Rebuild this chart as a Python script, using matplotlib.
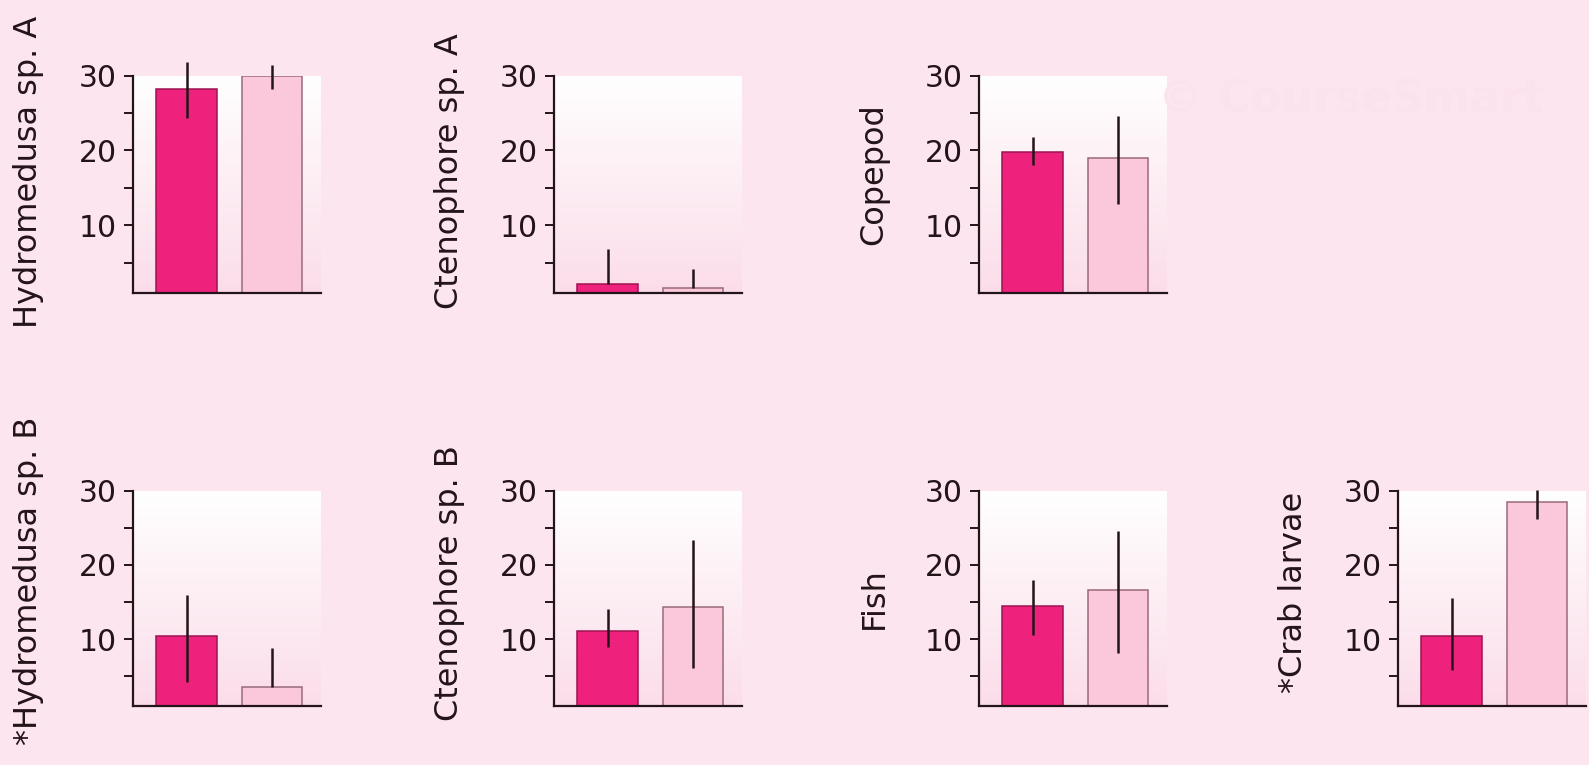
import matplotlib.pyplot as plt
import numpy as np

# values (two groups per taxon)
taxa = ["Hydromedusa sp. A", "Ctenophore sp. A", "Copepod",
        "*Hydromedusa sp. B", "Ctenophore sp. B", "Fish", "*Crab larvae"]
dark_vals = [28.2, 2.1, 19.8, 10.4, 11.1, 14.4, 10.4]
dark_lo = [3.9, 0.0, 1.8, 6.2, 2.2, 3.8, 4.6]
dark_hi = [3.6, 4.7, 2.0, 5.5, 2.9, 3.5, 5.1]
light_vals = [30.0, 1.6, 19.0, 3.6, 14.3, 16.6, 28.4]
light_lo = [1.8, 0.0, 6.2, 0.0, 8.2, 8.5, 2.2]
light_hi = [1.4, 2.5, 5.6, 5.2, 9.1, 8.0, 1.7]
yticks = [10, 20, 30]

# layout (pixels in a 1589x765 figure)
W, H = 1589, 765
col_left = [133, 554, 979, 1398]
slots = [(0, 0), (0, 1), (0, 2), (1, 0), (1, 1), (1, 2), (1, 3)]
row_box = [(75.5, 292.5), (490.5, 706.0)]
label_y = [0.555, 0.56, 0.546, 0.58, 0.571, 0.5, 0.529]

bg = '#fce5ef'
dark_col, dark_edge = '#ee227d', '#9c1450'
light_col, light_edge = '#fac8da', '#9a6a7a'
ink = '#231419'

plt.rcParams['font.family'] = ['DejaVu Sans']

fig = plt.figure(figsize=(W / 100, H / 100), dpi=100, facecolor=bg)

# pink-to-white gradient used as axes background
grad = np.linspace(0, 1, 256).reshape(-1, 1)
top_rgb = np.array([1.0, 1.0, 1.0])
bot_rgb = np.array([251, 221, 233]) / 255
grad_img = (bot_rgb + (top_rgb - bot_rgb) * grad)[:, None, :].repeat(2, axis=1)

for i, name in enumerate(taxa):
    r, c = slots[i]
    top, bot = row_box[r]
    ax = fig.add_axes([col_left[c] / W, 1 - bot / H, 188 / W, (bot - top) / H])
    ax.set_xlim(-0.626, 1.573)
    ax.set_ylim(1, 30)
    ax.imshow(grad_img, extent=[-0.626, 1.573, 1, 30], origin='lower',
              aspect='auto', zorder=0)
    ax.patch.set_visible(False)

    ax.bar([0], [dark_vals[i]], width=0.71, color=dark_col,
           edgecolor=dark_edge, linewidth=1.1, zorder=2)
    ax.bar([1], [light_vals[i]], width=0.71, color=light_col,
           edgecolor=light_edge, linewidth=1.1, zorder=2)
    eb = ax.errorbar([0, 1], [dark_vals[i], light_vals[i]],
                     yerr=[[dark_lo[i], light_lo[i]], [dark_hi[i], light_hi[i]]],
                     fmt='none', ecolor=ink, elinewidth=1.8, capsize=0, zorder=3)
    for coll in eb.lines[2]:
        coll.set_clip_on(False)

    for s in ['top', 'right']:
        ax.spines[s].set_visible(False)
    for s in ['left', 'bottom']:
        ax.spines[s].set_color(ink)
        ax.spines[s].set_linewidth(1.6)
    ax.set_xticks([])
    ax.set_yticks(yticks)
    ax.set_yticks([5, 15, 25], minor=True)
    ax.tick_params(axis='y', which='both', length=6.5, width=1.4,
                   color=ink, labelsize=21.5, labelcolor=ink, pad=5)

    ax.set_ylabel(name, fontsize=23, color=ink)
    ax.yaxis.set_label_coords(-0.475, label_y[i])

# faint watermark in the empty slot
fig.text(0.85, 0.869, '\u00a9 CourseSmart', fontsize=32, fontweight='bold',
         color='#fbe2ed', ha='center', va='center')

fig.savefig('out.png', dpi=100, facecolor=bg)
